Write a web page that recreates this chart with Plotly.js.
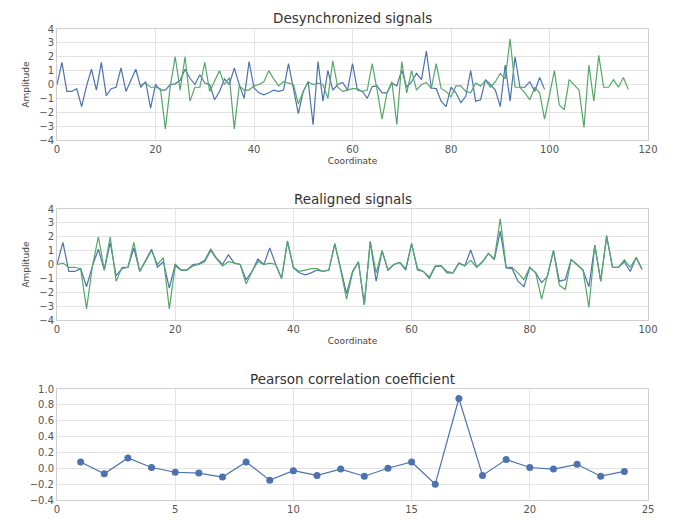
<!DOCTYPE html>
<html>
<head>
<meta charset="utf-8">
<script src="https://cdn.plot.ly/plotly-3.0.1.min.js"></script>
<style>html,body{margin:0;padding:0;background:#fff;}#chart{width:676px;height:520px;}</style>
</head>
<body>
<div id="chart"></div>
<script>
// ---- data ----
const blueSignal = [
  0.0, 1.6, -0.5, -0.5, -0.3, -1.6, -0.1, 1.1, -0.4, 1.6,
  -0.8, -0.3, -0.2, 1.2, -0.5, 0.3, 1.1, -0.2, 0.2, -1.7,
  0.0, -0.4, -0.4, 0.0, 0.05, 0.3, 1.1, 0.45, 0.0, 0.7,
  0.1, 0.0, -1.1, -0.5, 0.4, 0.0, 1.2, 0.0, -1.0, 1.65,
  -0.25, -0.6, -0.75, -0.6, -0.4, -0.5, -0.4, 1.5, -0.4, -2.1,
  -0.5, 0.2, -2.9, 1.65, -1.2, 1.0, -0.4, 0.0, 0.15, -0.4,
  1.5, -0.4, -0.5, -1.0, -0.15, -0.1, -0.6, -0.6, 0.1, -0.1,
  1.05, -0.2, 0.2, 0.8, 0.35, 2.4, -0.25, -0.3, -1.2, -1.6,
  -0.2, -0.6, -1.3, -0.85, 1.0, -1.2, -1.1, 0.35, 0.0, -0.4,
  -1.6, 1.4, -1.2, 2.0, -0.2, -0.2, 0.2, -0.5, 0.5, -0.35
];
const greenSignal = [
  0.0, 0.1, -0.2, -0.2, -0.3, -3.2, -0.1, 2.0, -0.4, 2.0,
  -1.2, -0.2, -0.2, 1.6, -0.5, 0.3, 1.0, 0.0, 0.5, -3.2,
  -0.1, -0.4, -0.4, -0.1, 0.0, 0.2, 1.0, 0.4, -0.1, 0.2,
  0.1, 0.0, -1.4, -0.5, 0.2, 0.0, 0.1, 0.0, -1.0, 1.7,
  -0.2, -0.5, -0.4, -0.3, -0.3, -0.5, -0.4, 1.5, -0.4, -2.5,
  -0.6, 0.2, -2.9, 1.65, -0.6, 1.0, -0.4, 0.0, 0.15, -0.3,
  1.5, -0.3, -0.5, -0.9, -0.1, -0.1, -0.5, -0.6, 0.1, -0.1,
  0.3, -0.2, 0.2, 0.8, 0.4, 3.3, -0.2, -0.2, -0.6, -1.1,
  -0.2, -0.6, -2.5, -0.85, 1.0, -1.5, -1.8, 0.35, 0.0, -0.4,
  -3.1, 1.4, -1.2, 2.1, -0.2, -0.2, 0.35, -0.2, 0.5, -0.35
];
const lag = 17;  // shift of the green signal in the desynchronized view
const lags = [1,2,3,4,5,6,7,8,9,10,11,12,13,14,15,16,17,18,19,20,21,22,23,24];
const pearson = [0.08,-0.07,0.13,0.01,-0.05,-0.06,-0.11,0.08,-0.15,-0.03,-0.09,-0.01,
                 -0.10,0.00,0.08,-0.20,0.88,-0.09,0.11,0.01,-0.01,0.05,-0.10,-0.04];
const titles = ["Desynchronized signals", "Realigned signals", "Pearson correlation coefficient"];
const xLabel = "Coordinate";
const yLabel = "Amplitude";

// ---- build ----
const BLUE = "#4C72B0", GREEN = "#55A868";
const idxBlue = blueSignal.map((_, i) => i);
const idxGreen = greenSignal.map((_, i) => i);
const idxGreenShift = greenSignal.map((_, i) => i + lag);

const W = 676, H = 520;
const xDom = [57 / W, 648 / W];
const dom = (top, bot) => [1 - bot / H, 1 - top / H];

const lineStyle = c => ({color: c, width: 1.2});
const traces = [
  {x: idxBlue, y: blueSignal, xaxis: "x", yaxis: "y", mode: "lines", line: lineStyle(BLUE)},
  {x: idxGreenShift, y: greenSignal, xaxis: "x", yaxis: "y", mode: "lines", line: lineStyle(GREEN)},
  {x: idxBlue, y: blueSignal, xaxis: "x2", yaxis: "y2", mode: "lines", line: lineStyle(BLUE)},
  {x: idxGreen, y: greenSignal, xaxis: "x2", yaxis: "y2", mode: "lines", line: lineStyle(GREEN)},
  {x: lags, y: pearson, xaxis: "x3", yaxis: "y3", mode: "lines+markers",
   line: lineStyle(BLUE), marker: {color: BLUE, size: 7}}
];

const tickFont = {family: "DejaVu Sans", size: 10, color: "#555"};
const labFont = {family: "DejaVu Sans", size: 9, color: "#444"};
const baseAxis = {
  showgrid: true, gridcolor: "#e3e3e3", gridwidth: 1,
  showline: true, linecolor: "#d0d0d0", linewidth: 1, mirror: true,
  zeroline: false, ticks: "", tickfont: tickFont, fixedrange: true
};

const layout = {
  width: W, height: H,
  margin: {l: 0, r: 0, t: 0, b: 0},
  paper_bgcolor: "#fff", plot_bgcolor: "#fff",
  showlegend: false, hovermode: false,
  xaxis: Object.assign({}, baseAxis, {domain: xDom, anchor: "y", range: [0, 120], dtick: 20,
    title: {text: xLabel, font: labFont, standoff: 3}}),
  yaxis: Object.assign({}, baseAxis, {domain: dom(29, 140), anchor: "x", range: [-4, 4], dtick: 1,
    title: {text: yLabel, font: labFont, standoff: 8}}),
  xaxis2: Object.assign({}, baseAxis, {domain: xDom, anchor: "y2", range: [0, 100], dtick: 20,
    title: {text: xLabel, font: labFont, standoff: 3}}),
  yaxis2: Object.assign({}, baseAxis, {domain: dom(209, 320), anchor: "x2", range: [-4, 4], dtick: 1,
    title: {text: yLabel, font: labFont, standoff: 8}}),
  xaxis3: Object.assign({}, baseAxis, {domain: xDom, anchor: "y3", range: [0, 25], dtick: 5}),
  yaxis3: Object.assign({}, baseAxis, {domain: dom(389, 500), anchor: "x3", range: [-0.4, 1.0], dtick: 0.2,
    tickformat: ".1f"}),
  annotations: [
    {text: titles[0], xref: "paper", yref: "paper", x: 0.5 * (xDom[0] + xDom[1]), y: 1 - 18 / H,
     showarrow: false, xanchor: "center", yanchor: "middle", font: {family: "DejaVu Sans", size: 13.5, color: "#333"}},
    {text: titles[1], xref: "paper", yref: "paper", x: 0.5 * (xDom[0] + xDom[1]), y: 1 - 199 / H,
     showarrow: false, xanchor: "center", yanchor: "middle", font: {family: "DejaVu Sans", size: 13.5, color: "#333"}},
    {text: titles[2], xref: "paper", yref: "paper", x: 0.5 * (xDom[0] + xDom[1]), y: 1 - 379 / H,
     showarrow: false, xanchor: "center", yanchor: "middle", font: {family: "DejaVu Sans", size: 13.5, color: "#333"}}
  ]
};

Plotly.newPlot("chart", traces, layout, {staticPlot: true, displayModeBar: false});
</script>
</body>
</html>
